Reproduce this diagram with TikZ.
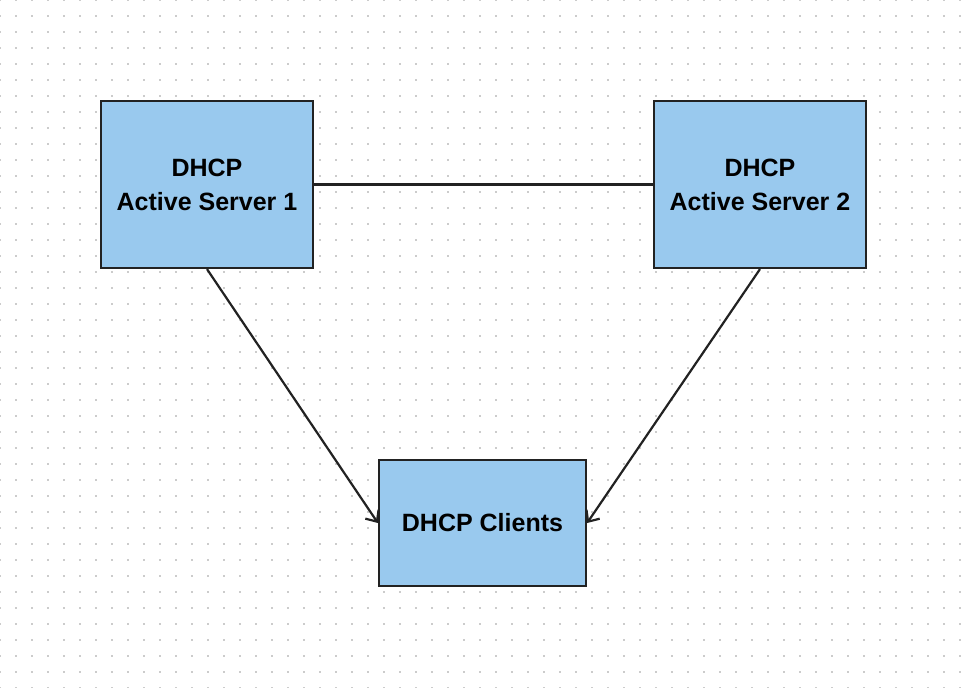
\documentclass[tikz,border=0pt]{standalone}
\usepackage{fontspec}
\setmainfont{Liberation Sans}
\usetikzlibrary{arrows.meta}
\definecolor{boxfill}{HTML}{99C9EE}
\definecolor{boxline}{HTML}{222222}
\definecolor{dotc}{HTML}{CCCCCC}
\tikzset{
  dhcpbox/.style={draw=boxline, line width=2.2pt, fill=boxfill, inner sep=0pt, align=center,
    font=\fontsize{25}{34}\selectfont\bfseries},
  conn/.style={draw=boxline, line width=2.2pt},
  arr/.style={conn, -{Straight Barb[length=9pt,width=16pt,line width=2.2pt]}}
}
\begin{document}
\begin{tikzpicture}[x=1pt,y=-1pt]
\useasboundingbox (0,0) rectangle (967,688);
\fill[white] (0,0) rectangle (967,688);
\foreach \i in {0,...,60} {
  \foreach \j in {0,...,43} {
    \fill[dotc] (\i*16-0.9,\j*16-0.9) rectangle (\i*16+0.9,\j*16+0.9);
  }
}
\node[dhcpbox, minimum width=212pt, minimum height=167pt] (s1) at (207,184.5) {DHCP\\Active Server 1};
\node[dhcpbox, minimum width=212pt, minimum height=167pt] (s2) at (760,184.5) {DHCP\\Active Server 2};
\node[dhcpbox, minimum width=207pt, minimum height=126pt] (c) at (482.5,523) {DHCP Clients};
\draw[conn] (s1.east) -- (s2.west);
\draw[arr] (s1.south) -- (c.west);
\draw[arr] (s2.south) -- (c.east);
\end{tikzpicture}
\end{document}
